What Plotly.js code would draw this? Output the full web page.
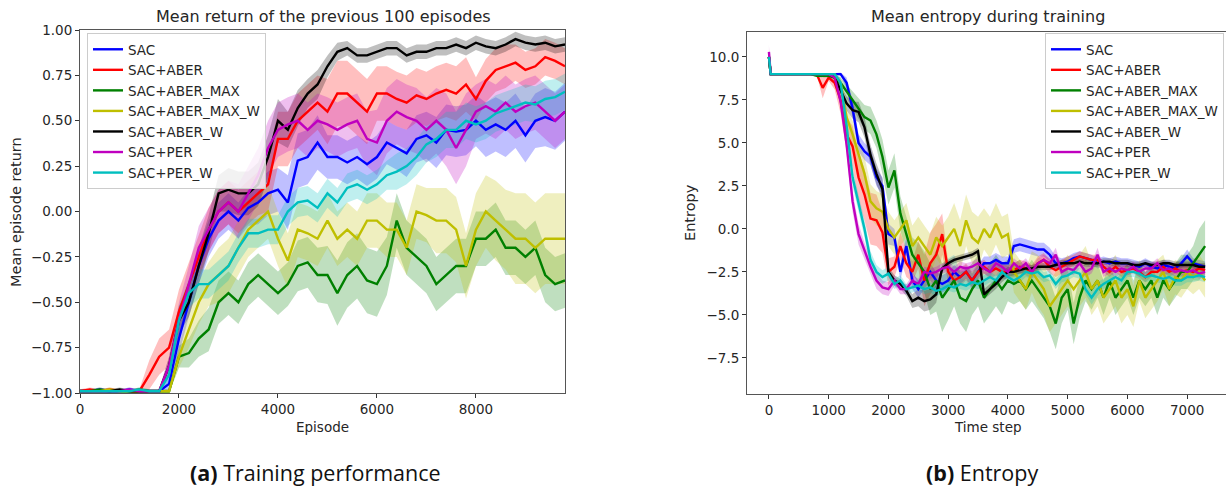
<!DOCTYPE html>
<html>
<head>
<meta charset="utf-8">
<script src="https://cdn.plot.ly/plotly-3.0.1.min.js"></script>
<style>
html,body{margin:0;padding:0;overflow:hidden;background:#fff;}
#chart{width:1250px;height:488px;}
</style>
</head>
<body>
<div id="chart"></div>
<script>
// ---------- names & colours ----------
const seriesNames = ['SAC','SAC+ABER','SAC+ABER_MAX','SAC+ABER_MAX_W','SAC+ABER_W','SAC+PER','SAC+PER_W'];
const lineColors = ['#0000ff','#ff0000','#008000','#bfbf00','#000000','#bf00bf','#00bfbf'];
const fillColors = ['rgba(0,0,255,0.25)','rgba(255,0,0,0.25)','rgba(0,128,0,0.25)','rgba(191,191,0,0.25)','rgba(0,0,0,0.25)','rgba(191,0,191,0.25)','rgba(0,191,191,0.25)'];

// ---------- (a) training performance: episodes 0..9800 step 200 ----------
const episodes = [];
for (let e = 0; e <= 9800; e += 200) episodes.push(e);

const retSAC = [-0.99,-0.99,-0.98,-0.99,-0.99,-0.98,-0.99,-0.99,-0.99,-0.95, -0.7,-0.5,-0.3,-0.15,-0.05, 0.0,-0.05,0.02,0.05,0.1, 0.12,0.05,0.28,0.3,0.38, 0.3,0.3,0.27,0.3,0.26, 0.3,0.38,0.35,0.32,0.4, 0.42,0.38,0.45,0.44,0.45, 0.5,0.45,0.48,0.45,0.5, 0.42,0.5,0.52,0.5,0.55];
const retABER = [-0.99,-0.98,-0.99,-0.98,-0.99,-0.99,-0.99, -0.9,-0.8,-0.75, -0.55,-0.4,-0.25,-0.1,0.0, 0.05,0.0,0.05,0.1,0.15, 0.4,0.4,0.5,0.55,0.6, 0.55,0.65,0.65,0.6,0.55, 0.65,0.65,0.62,0.6,0.64, 0.62,0.65,0.67,0.65,0.7, 0.62,0.72,0.78,0.8,0.82, 0.78,0.8,0.85,0.83,0.8];
const retABERMAX = [-0.99,-0.99,-0.98,-0.99,-0.99,-0.99,-0.98,-0.99,-0.99,-0.99, -0.8,-0.78,-0.7,-0.65,-0.5, -0.45,-0.5,-0.4,-0.35,-0.4, -0.45,-0.4,-0.3,-0.28,-0.35, -0.35,-0.45,-0.35,-0.3,-0.38, -0.4,-0.3,-0.05,-0.2,-0.25, -0.3,-0.4,-0.35,-0.3,-0.3, -0.15,-0.15,-0.1,-0.2,-0.2, -0.25,-0.2,-0.35,-0.4,-0.38];
const retABERMAXW = [-0.99,-0.99,-0.99,-0.98,-0.99,-0.99,-0.99,-0.99,-0.99,-0.99, -0.8,-0.65,-0.5,-0.4,-0.35, -0.3,-0.2,-0.1,-0.05,0.0, -0.15,-0.27,-0.1,-0.12,-0.15, -0.05,-0.15,-0.1,-0.15,-0.05, -0.05,-0.1,-0.1,-0.2,0.0, -0.02,-0.05,-0.05,-0.1,-0.3, -0.1,0.0,-0.05,-0.1,-0.15, -0.15,-0.2,-0.15,-0.15,-0.15];
const retABERW = [-0.99,-0.99,-0.99,-0.99,-0.98,-0.99,-0.99,-0.99,-0.99,-0.85, -0.6,-0.5,-0.3,-0.12,0.1, 0.12,0.1,0.1,0.15,0.3, 0.5,0.45,0.57,0.65,0.7, 0.8,0.88,0.9,0.86,0.86, 0.88,0.9,0.9,0.86,0.88, 0.88,0.9,0.9,0.92,0.9, 0.93,0.91,0.9,0.92,0.95, 0.93,0.92,0.93,0.91,0.92];
const retPER = [-0.99,-0.99,-0.99,-0.99,-0.99,-0.98,-0.99,-0.99,-0.99,-0.85, -0.6,-0.4,-0.2,-0.1,0.0, 0.05,0.0,0.1,0.2,0.35, 0.45,0.48,0.5,0.45,0.5, 0.48,0.45,0.48,0.5,0.4, 0.38,0.5,0.55,0.52,0.5, 0.45,0.5,0.45,0.35,0.45, 0.55,0.58,0.55,0.6,0.55, 0.58,0.6,0.55,0.5,0.55];
const retPERW = [-0.99,-0.99,-0.99,-0.99,-0.99,-0.99,-0.98,-0.99,-0.99,-0.9, -0.6,-0.45,-0.4,-0.4,-0.35, -0.3,-0.2,-0.12,-0.12,-0.1, -0.1,0.0,0.05,0.06,0.02, 0.1,0.05,0.13,0.15,0.12, 0.15,0.2,0.22,0.25,0.3, 0.37,0.4,0.45,0.45,0.5, 0.48,0.5,0.54,0.56,0.58, 0.6,0.59,0.62,0.63,0.66];

const sprSAC = [0.01,0.01,0.01,0.01,0.01,0.01,0.01,0.01,0.01,0.04, 0.08,0.08,0.1,0.1,0.1, 0.1,0.1,0.1,0.12,0.12, 0.12,0.15,0.15,0.15,0.15, 0.12,0.12,0.12,0.12,0.12, 0.12,0.12,0.12,0.13,0.13, 0.13,0.14,0.14,0.14,0.14, 0.14,0.15,0.15,0.15,0.15, 0.15,0.15,0.16,0.16,0.16];
const sprABER = [0.01,0.01,0.01,0.01,0.01,0.01,0.01, 0.08,0.1,0.1, 0.12,0.12,0.12,0.12,0.12, 0.12,0.12,0.12,0.12,0.15, 0.15,0.15,0.15,0.15,0.15, 0.18,0.18,0.18,0.18,0.18, 0.15,0.15,0.15,0.15,0.15, 0.15,0.15,0.15,0.15,0.15, 0.12,0.12,0.12,0.12,0.1, 0.1,0.1,0.1,0.1,0.1];
const sprABERMAX = [0.01,0.01,0.01,0.01,0.01,0.01,0.01,0.01,0.01,0.01, 0.06,0.08,0.1,0.12,0.12, 0.12,0.12,0.12,0.12,0.12, 0.12,0.12,0.14,0.14,0.15, 0.16,0.18,0.18,0.18,0.18, 0.18,0.16,0.15,0.15,0.15, 0.15,0.15,0.15,0.15,0.15, 0.15,0.15,0.15,0.15,0.15, 0.15,0.15,0.15,0.15,0.15];
const sprABERMAXW = [0.01,0.01,0.01,0.01,0.01,0.01,0.01,0.01,0.01,0.01, 0.06,0.1,0.12,0.12,0.15, 0.15,0.15,0.15,0.15,0.15, 0.15,0.15,0.15,0.15,0.15, 0.15,0.15,0.15,0.15,0.15, 0.15,0.15,0.15,0.15,0.15, 0.15,0.18,0.18,0.18,0.18, 0.2,0.2,0.22,0.22,0.25, 0.25,0.25,0.25,0.25,0.25];
const sprABERW = [0.01,0.01,0.01,0.01,0.01,0.01,0.01,0.01,0.01,0.05, 0.08,0.08,0.1,0.1,0.1, 0.12,0.12,0.12,0.12,0.12, 0.12,0.1,0.1,0.08,0.08, 0.06,0.05,0.04,0.04,0.04, 0.04,0.04,0.04,0.04,0.04, 0.04,0.04,0.04,0.04,0.04, 0.04,0.04,0.04,0.04,0.04, 0.04,0.04,0.04,0.04,0.04];
const sprPER = [0.01,0.01,0.01,0.01,0.01,0.01,0.01,0.01,0.01,0.05, 0.1,0.1,0.12,0.12,0.12, 0.12,0.15,0.15,0.15,0.15, 0.15,0.15,0.15,0.15,0.15, 0.15,0.15,0.15,0.15,0.15, 0.18,0.18,0.18,0.18,0.18, 0.18,0.18,0.2,0.2,0.2, 0.15,0.15,0.15,0.15,0.15, 0.15,0.15,0.15,0.15,0.15];
const sprPERW = [0.01,0.01,0.01,0.01,0.01,0.01,0.01,0.01,0.01,0.05, 0.08,0.08,0.08,0.08,0.08, 0.08,0.08,0.08,0.08,0.08, 0.08,0.08,0.08,0.08,0.08, 0.08,0.08,0.08,0.08,0.08, 0.08,0.08,0.1,0.1,0.1, 0.1,0.1,0.1,0.1,0.1, 0.1,0.1,0.1,0.1,0.1, 0.1,0.1,0.1,0.1,0.1];

// ---------- (b) entropy: time steps 0, 30, 100..7300 step 100 ----------
const timeSteps = [0, 30];
for (let t = 100; t <= 7300; t += 100) timeSteps.push(t);

const entSAC = [10.0,9.0, 9.0,9.0,9.0,9.0,9.0,9.0,9.0,9.0,9.0,9.0, 9.0,9.0,8.5,7.0,5.0,4.5,4.2,3.0,2.5,-0.3, -0.5,-2.5,-1.0,-3.0,-3.5,-3.0,-2.5,-3.0,-3.2,-3.0, -2.5,-2.8,-2.5,-3.0,-2.5,-2.0,-2.0,-1.8,-2.0,-2.0, -1.0,-0.9,-1.0,-1.1,-1.2,-1.2,-1.5,-2.0,-2.0,-1.9, -1.7,-1.6,-1.7,-1.8,-2.0,-1.9,-2.0,-1.9,-2.0,-2.0, -2.1,-2.2,-2.0,-2.2,-2.3,-2.1,-2.2,-2.3,-2.0,-1.6, -2.0,-2.1,-2.2];
const entABER = [10.0,9.0, 9.0,9.0,9.0,9.0,9.0,9.0,9.0,9.0,8.2,8.8, 8.5,7.5,5.5,4.8,3.0,2.0,0.6,0.5,-0.2,-2.5, -2.2,-1.0,-2.0,-2.5,-1.5,-3.0,-2.0,-1.5,-0.3,-2.5, -3.0,-2.8,-2.5,-3.0,-2.5,-2.2,-2.5,-2.3,-2.5,-2.5, -2.4,-2.2,-2.3,-2.5,-2.0,-1.8,-2.2,-2.4,-2.2,-2.0, -1.8,-1.6,-1.7,-1.8,-1.8,-2.2,-2.5,-2.2,-2.5,-2.4, -2.3,-2.5,-2.8,-2.5,-2.5,-2.2,-2.5,-2.3,-2.5,-2.4, -2.5,-2.3,-2.4];
const entABERMAX = [10.0,9.0, 9.0,9.0,9.0,9.0,9.0,9.0,9.0,8.9,8.9,8.9, 8.8,8.5,8.0,7.5,7.0,6.5,6.3,5.5,4.2,2.4, 3.4,0.9,-0.3,-1.5,-2.0,-2.5,-3.5,-3.0,-4.0,-3.5, -3.0,-4.0,-4.2,-3.5,-3.0,-4.0,-3.5,-3.0,-3.5,-3.0, -3.2,-3.0,-3.5,-3.0,-3.5,-4.0,-4.5,-5.5,-4.0,-3.5, -5.5,-4.0,-3.0,-3.5,-3.0,-4.0,-3.0,-4.0,-3.5,-3.0, -4.0,-3.0,-3.5,-3.0,-4.0,-3.0,-3.5,-3.0,-2.5,-2.5, -2.0,-1.5,-1.0];
const entABERMAXW = [10.0,9.0, 9.0,9.0,9.0,9.0,9.0,9.0,9.0,9.0,9.0,9.0, 9.0,8.5,6.5,5.5,4.3,3.2,1.6,1.2,1.0,0.0, -0.5,0.0,0.5,-1.0,-0.5,-1.0,-1.5,-0.5,-1.0,-0.5, 0.0,-1.0,0.5,-0.5,-0.8,0.0,-0.5,0.3,-0.5,-0.3, -2.5,-3.0,-3.5,-2.5,-3.0,-3.5,-4.5,-4.0,-3.5,-3.0, -3.5,-3.0,-2.5,-3.5,-3.0,-4.0,-3.5,-3.0,-4.0,-3.5, -4.5,-3.0,-4.0,-3.5,-3.0,-2.5,-3.5,-2.8,-3.0,-2.5, -2.8,-2.5,-3.0];
const entABERW = [10.0,9.0, 9.0,9.0,9.0,9.0,9.0,9.0,9.0,9.0,9.0,9.0, 8.8,8.0,7.3,6.9,6.8,5.9,4.3,3.2,2.3,-2.5, -3.0,-3.2,-3.6,-4.2,-4.0,-4.2,-4.1,-3.8,-2.3,-2.0, -1.8,-1.7,-1.6,-1.5,-1.3,-3.8,-3.5,-3.2,-2.8,-2.5, -2.5,-2.4,-2.3,-2.3,-2.2,-2.2,-2.2,-2.1,-2.0,-2.0, -2.0,-1.9,-2.0,-2.0,-2.0,-1.9,-1.9,-2.0,-2.0,-2.0, -2.1,-2.1,-2.0,-2.1,-2.1,-2.0,-2.0,-2.1,-2.1,-2.1, -2.1,-2.2,-2.2];
const entPER = [10.3,9.0, 9.0,9.0,9.0,9.0,9.0,9.0,9.0,9.0,9.0,9.0, 8.8,7.4,4.9,1.6,-0.3,-1.3,-2.2,-3.0,-3.4,-3.5, -3.0,-3.5,-3.5,-3.0,-3.2,-2.5,-2.6,-2.5,-2.3,-2.2, -2.5,-2.2,-2.3,-2.2,-2.0,-2.3,-2.5,-2.0,-2.2,-2.5, -2.0,-2.3,-2.0,-2.5,-2.0,-1.8,-2.0,-1.5,-2.5,-2.3, -2.4,-2.0,-2.5,-2.3,-1.5,-2.5,-2.3,-2.5,-2.3,-2.4, -2.2,-2.5,-2.3,-2.3,-2.0,-2.4,-2.3,-2.5,-2.4,-2.5, -2.4,-2.6,-2.5];
const entPERW = [10.0,9.0, 9.0,9.0,9.0,9.0,9.0,9.0,9.0,9.0,9.0,9.0, 9.0,8.5,6.0,3.0,1.5,0.0,-1.8,-2.5,-2.8,-2.6, -3.2,-3.0,-3.5,-3.4,-3.3,-3.5,-3.4,-3.6,-3.5,-3.3, -3.4,-3.2,-3.3,-3.1,-3.2,-3.0,-2.8,-3.0,-2.5,-2.8, -3.0,-2.8,-2.5,-2.6,-2.5,-2.8,-2.7,-3.2,-2.8,-2.7, -2.5,-2.6,-3.5,-4.0,-3.5,-3.2,-3.0,-2.8,-3.0,-2.5, -2.5,-2.6,-2.8,-2.7,-2.8,-2.9,-2.8,-3.0,-3.0,-2.8, -2.8,-2.7,-2.8];

const entSprSAC = [0.3,0.05, 0.05,0.05,0.05,0.05,0.05,0.05,0.05,0.05,0.05,0.05, 0.05,0.1,0.3,0.5,0.5,0.5,0.5,0.5,0.5,0.6, 0.5,0.5,0.5,0.5,0.5,0.5,0.5,0.5,0.5,0.5, 0.4,0.4,0.4,0.4,0.4,0.4,0.4,0.4,0.4,0.4, 0.4,0.4,0.4,0.4,0.4,0.4,0.4,0.4,0.3,0.3, 0.3,0.3,0.3,0.3,0.3,0.3,0.3,0.3,0.3,0.3, 0.3,0.3,0.3,0.3,0.3,0.3,0.3,0.3,0.3,0.4, 0.3,0.3,0.3];
const entSprABER = [0.3,0.05, 0.05,0.05,0.05,0.05,0.05,0.05,0.05,0.05,0.6,0.2, 0.4,0.8,1.0,1.2,1.5,1.5,1.5,1.5,1.2,0.8, 0.6,0.8,0.8,0.6,0.8,1.5,1.8,1.8,1.2,0.6, 0.5,0.5,0.5,0.5,0.5,0.4,0.4,0.4,0.4,0.4, 0.4,0.4,0.4,0.4,0.4,0.4,0.4,0.4,0.4,0.4, 0.3,0.3,0.3,0.3,0.3,0.3,0.3,0.3,0.3,0.3, 0.3,0.3,0.3,0.3,0.3,0.3,0.3,0.3,0.3,0.3, 0.3,0.3,0.3];
const entSprABERMAX = [0.3,0.05, 0.05,0.05,0.05,0.05,0.05,0.05,0.05,0.05,0.1,0.1, 0.2,0.3,0.4,0.5,0.6,0.7,0.8,0.8,1.0,1.0, 1.0,1.0,1.0,1.0,1.2,1.2,1.5,1.8,2.0,1.8, 1.5,1.5,1.8,1.5,1.5,1.5,1.5,1.5,1.5,1.2, 1.2,1.2,1.2,1.2,1.2,1.2,1.5,1.5,1.5,1.2, 1.2,1.2,1.2,1.2,1.0,1.0,1.0,1.0,1.0,1.0, 1.0,1.0,1.0,1.0,1.0,1.0,1.0,1.0,1.0,1.0, 1.0,1.5,1.5];
const entSprABERMAXW = [0.3,0.05, 0.05,0.05,0.05,0.05,0.05,0.05,0.05,0.05,0.05,0.05, 0.05,0.2,0.5,0.8,1.0,1.0,1.0,1.0,1.0,1.0, 1.0,1.0,1.0,1.2,1.2,1.2,1.2,1.2,1.2,1.2, 1.5,1.5,1.5,1.5,1.5,1.2,1.2,1.2,1.2,1.2, 1.2,1.2,1.2,1.2,1.5,1.5,1.5,1.5,1.5,1.5, 1.5,1.5,1.5,1.5,1.5,1.5,1.5,1.5,1.5,1.5, 1.2,1.2,1.2,1.2,1.2,1.0,1.0,1.0,1.0,1.0, 1.0,1.0,1.0];
const entSprABERW = [0.3,0.05, 0.05,0.05,0.05,0.05,0.05,0.05,0.05,0.05,0.05,0.05, 0.1,0.3,0.4,0.5,0.6,0.6,0.6,0.6,0.6,0.3, 0.3,0.3,0.3,0.4,0.5,0.6,0.6,0.5,0.2,0.2, 0.2,0.2,0.2,0.2,0.2,0.3,0.3,0.3,0.3,0.3, 0.2,0.2,0.2,0.2,0.2,0.2,0.2,0.2,0.2,0.2, 0.2,0.2,0.2,0.2,0.2,0.2,0.2,0.2,0.2,0.2, 0.2,0.2,0.2,0.2,0.2,0.2,0.2,0.2,0.2,0.2, 0.2,0.2,0.2];
const entSprPER = [0.4,0.05, 0.05,0.05,0.05,0.05,0.05,0.05,0.05,0.05,0.05,0.05, 0.1,0.3,0.5,0.6,0.6,0.5,0.5,0.5,0.4,0.4, 0.3,0.3,0.3,0.3,0.3,0.3,0.3,0.3,0.3,0.3, 0.3,0.3,0.3,0.3,0.3,0.3,0.3,0.3,0.3,0.3, 0.3,0.3,0.3,0.3,0.3,0.3,0.3,0.4,0.3,0.3, 0.3,0.3,0.3,0.3,0.4,0.3,0.3,0.3,0.3,0.3, 0.3,0.3,0.3,0.3,0.3,0.3,0.3,0.3,0.3,0.3, 0.3,0.3,0.3];
const entSprPERW = [0.3,0.05, 0.05,0.05,0.05,0.05,0.05,0.05,0.05,0.05,0.05,0.05, 0.05,0.3,0.5,0.5,0.5,0.5,0.5,0.4,0.4,0.4, 0.3,0.3,0.3,0.3,0.3,0.3,0.3,0.3,0.3,0.3, 0.3,0.3,0.3,0.3,0.3,0.3,0.3,0.3,0.3,0.3, 0.3,0.3,0.3,0.3,0.3,0.3,0.3,0.3,0.3,0.3, 0.3,0.3,0.3,0.4,0.4,0.3,0.3,0.3,0.3,0.3, 0.3,0.3,0.3,0.3,0.3,0.3,0.3,0.3,0.3,0.3, 0.3,0.3,0.3];

const retMeans = [retSAC, retABER, retABERMAX, retABERMAXW, retABERW, retPER, retPERW];
const retSpreads = [sprSAC, sprABER, sprABERMAX, sprABERMAXW, sprABERW, sprPER, sprPERW];
const entMeans = [entSAC, entABER, entABERMAX, entABERMAXW, entABERW, entPER, entPERW];
const entSpreads = [entSprSAC, entSprABER, entSprABERMAX, entSprABERMAXW, entSprABERW, entSprPER, entSprPERW];

// ---------- traces ----------
const traces = [];
function addBands(xs, means, spreads, xa, ya) {
  for (let s = 0; s < means.length; s++) {
    const lo = means[s].map((v, i) => v - spreads[s][i]);
    const hi = means[s].map((v, i) => v + spreads[s][i]);
    traces.push({x: xs, y: lo, xaxis: xa, yaxis: ya, type: 'scatter', mode: 'lines',
      line: {width: 0, color: fillColors[s]}, showlegend: false, hoverinfo: 'skip'});
    traces.push({x: xs, y: hi, xaxis: xa, yaxis: ya, type: 'scatter', mode: 'lines',
      line: {width: 0, color: fillColors[s]}, fill: 'tonexty', fillcolor: fillColors[s],
      showlegend: false, hoverinfo: 'skip'});
  }
}
function addLines(xs, means, xa, ya, legendId) {
  for (let s = 0; s < means.length; s++) {
    traces.push({x: xs, y: means[s], xaxis: xa, yaxis: ya, type: 'scatter', mode: 'lines',
      name: seriesNames[s], legend: legendId,
      line: {width: 2.4, color: lineColors[s]}});
  }
}
addBands(episodes, retMeans, retSpreads, 'x', 'y');
addLines(episodes, retMeans, 'x', 'y', 'legend');
addBands(timeSteps, entMeans, entSpreads, 'x2', 'y2');
addLines(timeSteps, entMeans, 'x2', 'y2', 'legend2');

// ---------- layout ----------
const W = 1250, H = 488;
const tickFont = {family: 'DejaVu Sans', size: 13.5, color: '#262626'};
const axisCommon = {
  showgrid: false, zeroline: false, showline: true, linecolor: '#555', linewidth: 1,
  mirror: true, ticks: 'outside', ticklen: 4, tickwidth: 1, tickcolor: '#333',
  tickfont: tickFont, fixedrange: true
};
const legendCommon = {
  font: {family: 'DejaVu Sans', size: 13.5, color: '#262626'},
  bgcolor: 'rgba(255,255,255,0.8)', bordercolor: '#cccccc', borderwidth: 1,
  xanchor: 'left', yanchor: 'top', itemwidth: 30, traceorder: 'normal'
};
const textFont = {family: 'DejaVu Sans', size: 13.5, color: '#262626'};

const layout = {
  width: W, height: H,
  margin: {l: 0, r: 0, t: 0, b: 0},
  paper_bgcolor: '#fff', plot_bgcolor: '#fff',
  showlegend: true,
  xaxis: Object.assign({}, axisCommon, {domain: [80/W, 565/W], range: [0, 9800],
    tickvals: [0, 2000, 4000, 6000, 8000], anchor: 'y'}),
  yaxis: Object.assign({}, axisCommon, {domain: [1 - 393/H, 1 - 30/H], range: [-1, 1],
    tickvals: [-1, -0.75, -0.5, -0.25, 0, 0.25, 0.5, 0.75, 1], tickformat: '.2f', anchor: 'x'}),
  xaxis2: Object.assign({}, axisCommon, {domain: [747/W, 1230/W], range: [-367, 7717],
    tickvals: [0, 1000, 2000, 3000, 4000, 5000, 6000, 7000], anchor: 'y2'}),
  yaxis2: Object.assign({}, axisCommon, {domain: [1 - 394/H, 1 - 32/H], range: [-9.6, 11.45],
    tickvals: [-7.5, -5, -2.5, 0, 2.5, 5, 7.5, 10], tickformat: '.1f', anchor: 'x2'}),
  legend: Object.assign({}, legendCommon, {x: 87/W, y: 1 - 33/H}),
  legend2: Object.assign({}, legendCommon, {x: 1045/W, y: 1 - 33/H}),
  annotations: [
    {text: 'Mean return of the previous 100 episodes', xref: 'paper', yref: 'paper',
     x: 323/W, y: 1 - 16/H, xanchor: 'center', yanchor: 'middle', showarrow: false,
     font: {family: 'DejaVu Sans', size: 16, color: '#262626'}},
    {text: 'Mean entropy during training', xref: 'paper', yref: 'paper',
     x: 988.5/W, y: 1 - 16/H, xanchor: 'center', yanchor: 'middle', showarrow: false,
     font: {family: 'DejaVu Sans', size: 16, color: '#262626'}},
    {text: 'Episode', xref: 'paper', yref: 'paper', x: 322.5/W, y: 1 - 427/H,
     xanchor: 'center', yanchor: 'middle', showarrow: false, font: textFont},
    {text: 'Time step', xref: 'paper', yref: 'paper', x: 988.5/W, y: 1 - 427/H,
     xanchor: 'center', yanchor: 'middle', showarrow: false, font: textFont},
    {text: 'Mean episode return', xref: 'paper', yref: 'paper', x: 16/W, y: 1 - 212/H,
     xanchor: 'center', yanchor: 'middle', textangle: -90, showarrow: false,
     font: {family: 'DejaVu Sans', size: 14.5, color: '#262626'}},
    {text: 'Entropy', xref: 'paper', yref: 'paper', x: 690/W, y: 1 - 213/H,
     xanchor: 'center', yanchor: 'middle', textangle: -90, showarrow: false,
     font: {family: 'DejaVu Sans', size: 14.5, color: '#262626'}},
    {text: '<b>(a)</b> Training performance', xref: 'paper', yref: 'paper', x: 315/W, y: 1 - 472/H,
     xanchor: 'center', yanchor: 'middle', showarrow: false,
     font: {family: 'Open Sans', size: 21.5, color: '#111'}},
    {text: '<b>(b)</b> Entropy', xref: 'paper', yref: 'paper', x: 982/W, y: 1 - 472/H,
     xanchor: 'center', yanchor: 'middle', showarrow: false,
     font: {family: 'Open Sans', size: 21.5, color: '#111'}}
  ]
};

Plotly.newPlot('chart', traces, layout, {staticPlot: true, displayModeBar: false});
</script>
</body>
</html>
